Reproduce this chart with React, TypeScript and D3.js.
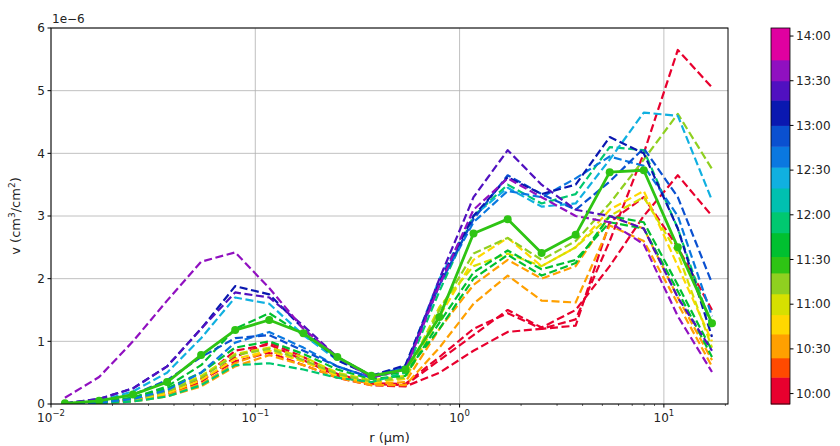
import React from "react";
import * as d3 from "d3";

// radius bins (µm)
const R = [0.0117, 0.0172, 0.0252, 0.037, 0.0543, 0.0797, 0.117, 0.172, 0.252, 0.37, 0.543, 0.797, 1.17, 1.72, 2.52, 3.7, 5.43, 7.97, 11.7, 17.2];

// times in minutes since midnight
const TIMES = [600, 605, 608, 635, 638, 647, 660, 670, 700, 705, 715, 745, 760, 770, 785, 800, 815, 690];
// values (x1e-6)
const S_1000 = [0.0, 0.03, 0.08, 0.18, 0.38, 0.68, 0.82, 0.62, 0.42, 0.3, 0.28, 0.5, 0.85, 1.15, 1.2, 1.35, 2.6, 4.0, 5.65, 5.05];
const S_1005 = [0.0, 0.02, 0.07, 0.17, 0.4, 0.85, 0.95, 0.7, 0.45, 0.32, 0.3, 0.7, 1.1, 1.5, 1.22, 1.5, 2.2, 3.0, 3.65, 3.0];
const S_1008 = [0.0, 0.02, 0.06, 0.15, 0.35, 0.75, 0.98, 0.75, 0.48, 0.33, 0.32, 0.75, 1.2, 1.45, 1.2, 1.25, 2.9, 3.3, 2.5, 1.5];
const S_1035 = [0.0, 0.01, 0.04, 0.12, 0.28, 0.6, 0.78, 0.62, 0.42, 0.3, 0.3, 0.9, 1.6, 2.05, 1.65, 1.62, 2.85, 2.6, 1.6, 0.6];
const S_1038 = [0.0, 0.01, 0.05, 0.14, 0.32, 0.65, 0.85, 0.68, 0.45, 0.32, 0.35, 1.2, 1.9, 2.3, 2.0, 2.2, 3.0, 2.8, 1.7, 0.7];
const S_1047 = [0.0, 0.02, 0.06, 0.17, 0.38, 0.72, 0.85, 0.68, 0.45, 0.34, 0.4, 1.4, 2.3, 2.65, 2.2, 2.5, 3.1, 3.4, 2.2, 1.0];
const S_1100 = [0.0, 0.03, 0.08, 0.22, 0.45, 0.8, 0.9, 0.75, 0.5, 0.38, 0.45, 1.55, 2.2, 2.4, 2.2, 2.5, 3.0, 3.3, 2.4, 0.9];
const S_1110 = [0.0, 0.02, 0.07, 0.2, 0.42, 0.78, 0.88, 0.7, 0.48, 0.36, 0.42, 1.5, 2.4, 2.65, 2.3, 2.6, 3.2, 3.9, 4.63, 3.75];
const S_1140 = [0.0, 0.03, 0.1, 0.25, 0.5, 0.9, 1.0, 0.8, 0.55, 0.4, 0.45, 1.3, 2.1, 2.45, 2.15, 2.3, 2.9, 2.8, 1.8, 0.75];
const S_1145 = [0.0, 0.03, 0.1, 0.28, 0.62, 1.2, 1.45, 1.1, 0.75, 0.45, 0.5, 1.2, 2.0, 2.38, 2.05, 2.25, 3.0, 2.9, 1.9, 0.85];
const S_1155 = [0.0, 0.01, 0.04, 0.12, 0.3, 0.62, 0.65, 0.55, 0.42, 0.35, 0.5, 1.8, 3.0, 3.5, 3.2, 3.35, 4.1, 4.05, 2.8, 1.2];
const S_1225 = [0.0, 0.05, 0.2, 0.5, 1.05, 1.7, 1.6, 1.1, 0.7, 0.45, 0.6, 2.0, 3.0, 3.45, 3.15, 3.2, 3.9, 4.65, 4.6, 3.25];
const S_1240 = [0.0, 0.02, 0.08, 0.22, 0.5, 0.98, 1.15, 0.9, 0.6, 0.42, 0.58, 1.9, 2.9, 3.4, 3.3, 3.6, 3.95, 3.8, 3.0, 1.4];
const S_1250 = [0.01, 0.05, 0.15, 0.38, 0.75, 1.05, 1.1, 0.85, 0.6, 0.42, 0.6, 1.9, 2.95, 3.65, 3.35, 3.1, 3.55, 4.08, 3.3, 1.93];
const S_1305 = [0.01, 0.08, 0.25, 0.6, 1.2, 1.88, 1.75, 1.2, 0.7, 0.45, 0.62, 1.95, 3.0, 3.62, 3.35, 3.5, 4.26, 4.0, 2.8, 1.07];
const S_1320 = [0.01, 0.08, 0.25, 0.6, 1.2, 1.78, 1.7, 1.25, 0.75, 0.45, 0.55, 2.0, 3.3, 4.05, 3.5, 3.1, 3.0, 2.8, 1.7, 0.85];
const S_1335 = [0.1, 0.43, 1.0, 1.65, 2.27, 2.42, 1.85, 1.2, 0.75, 0.42, 0.55, 1.9, 3.1, 3.6, 3.3, 3.0, 2.9, 2.55, 1.4, 0.51];
const S_1130 = [0.01, 0.05, 0.15, 0.35, 0.78, 1.18, 1.34, 1.13, 0.75, 0.45, 0.55, 1.39, 2.72, 2.95, 2.41, 2.7, 3.7, 3.73, 2.5, 1.29];

const SERIES = [S_1000, S_1005, S_1008, S_1035, S_1038, S_1047, S_1100, S_1110, S_1140, S_1145, S_1155, S_1225, S_1240, S_1250, S_1305, S_1320, S_1335, S_1130];

// colorbar bins (minutes) and colours
const CB_EDGES = [593, 611, 624, 640, 653, 667, 681, 692, 708, 722, 738, 752, 766, 780, 797, 810, 824, 845.4];
const CB_COLORS = ["#e8002e", "#ff4a00", "#ffa000", "#ffd800", "#d6e000", "#8fd020", "#2ec414", "#00c030", "#00c870", "#00c0b0", "#10b0e0", "#0a78e0", "#0a50d0", "#0a18b0", "#5010c0", "#9010c0", "#e000a0"];
const CB_TICKS = [600, 630, 660, 690, 720, 750, 780, 810, 840];
const CB_LABELS = ["10:00", "10:30", "11:00", "11:30", "12:00", "12:30", "13:00", "13:30", "14:00"];

const Y_TICKS = [0, 1, 2, 3, 4, 5, 6];
const X_MAJOR = [0.01, 0.1, 1, 10];
const X_EXP = ["−2", "−1", "0", "1"];

const FONT = "DejaVu Sans, sans-serif";

function colorFor(t: number) {
  for (let i = 0; i < CB_COLORS.length; i++) {
    if (t >= CB_EDGES[i] && t < CB_EDGES[i + 1]) return CB_COLORS[i];
  }
  return CB_COLORS[CB_COLORS.length - 1];
}

export default function App() {
  const W = 840, H = 446;
  const L = 51, Rt = 728, T = 28, B = 404;
  const x = d3.scaleLog().domain([0.01, 20.6]).range([L, Rt]);
  const y = d3.scaleLinear().domain([0, 6]).range([B, T]);
  const line = d3.line<number>().x((_, i) => x(R[i])).y((d) => y(d));

  const minor: number[] = [];
  for (const dec of [0.01, 0.1, 1, 10]) {
    for (let k = 2; k <= 9; k++) {
      const v = dec * k;
      if (v < 20.6) minor.push(v);
    }
  }

  const cbL = 771, cbR = 790;
  const cy = d3.scaleLinear().domain([CB_EDGES[0], CB_EDGES[CB_EDGES.length - 1]]).range([B, T]);

  const order = SERIES.map((s, i) => i);

  return (
    <svg width={W} height={H} style={{ position: "absolute", left: 0, top: 0, background: "#fff" }} fontFamily={FONT}>
      <rect x={0} y={0} width={W} height={H} fill="#fff" />
      <defs>
        <clipPath id="clip">
          <rect x={L} y={T} width={Rt - L} height={B - T} />
        </clipPath>
      </defs>
      {/* grid */}
      {Y_TICKS.map((t) => (
        <line key={"gy" + t} x1={L} x2={Rt} y1={y(t)} y2={y(t)} stroke="#b0b0b0" strokeWidth={0.8} />
      ))}
      {X_MAJOR.map((t) => (
        <line key={"gx" + t} x1={x(t)} x2={x(t)} y1={T} y2={B} stroke="#b0b0b0" strokeWidth={0.8} />
      ))}
      {/* series */}
      <g clipPath="url(#clip)">
        {order.map((i) => {
          const solid = i === SERIES.length - 1;
          const c = colorFor(TIMES[i]);
          return (
            <g key={"s" + i}>
              <path
                d={line(SERIES[i]) || ""}
                fill="none"
                stroke={c}
                strokeWidth={solid ? 2.8 : 2.2}
                strokeDasharray={solid ? undefined : "8,3.6"}
                strokeLinejoin="round"
              />
              {solid && SERIES[i].map((v, j) => <circle key={j} cx={x(R[j])} cy={y(v)} r={4} fill={c} />)}
            </g>
          );
        })}
      </g>
      {/* frame */}
      <rect x={L} y={T} width={Rt - L} height={B - T} fill="none" stroke="#000" strokeWidth={1} />
      {/* y ticks */}
      {Y_TICKS.map((t) => (
        <g key={"yt" + t}>
          <line x1={L - 3.5} x2={L} y1={y(t)} y2={y(t)} stroke="#000" />
          <text x={L - 6} y={y(t)} dy="0.35em" textAnchor="end" fontSize={12} fill="#222">
            {t}
          </text>
        </g>
      ))}
      <text x={L + 1} y={T - 5} fontSize={12} fill="#222">1e−6</text>
      {/* x ticks */}
      {X_MAJOR.map((t, i) => (
        <g key={"xt" + t}>
          <line x1={x(t)} x2={x(t)} y1={B} y2={B + 3.5} stroke="#000" />
          <text x={x(t)} y={B + 18} textAnchor="middle" fontSize={12} fill="#222">
            10
            <tspan fontSize={8.5} dy={-6}>{X_EXP[i]}</tspan>
          </text>
        </g>
      ))}
      {minor.map((t) => (
        <line key={"mx" + t} x1={x(t)} x2={x(t)} y1={B} y2={B + 2} stroke="#000" strokeWidth={0.6} />
      ))}
      <text x={(L + Rt) / 2} y={442} textAnchor="middle" fontSize={13} fill="#222">r (µm)</text>
      <text transform={`translate(20,${(T + B) / 2}) rotate(-90)`} textAnchor="middle" fontSize={13} fill="#222">
        v (cm
        <tspan fontSize={9} dy={-5}>3</tspan>
        <tspan dy={5}>/cm</tspan>
        <tspan fontSize={9} dy={-5}>2</tspan>
        <tspan dy={5}>)</tspan>
      </text>
      {/* colorbar */}
      {CB_COLORS.map((c, i) => (
        <rect key={"cb" + i} x={cbL} width={cbR - cbL} y={cy(CB_EDGES[i + 1])} height={cy(CB_EDGES[i]) - cy(CB_EDGES[i + 1]) + 0.5} fill={c} />
      ))}
      <rect x={cbL} y={T} width={cbR - cbL} height={B - T} fill="none" stroke="#000" strokeWidth={0.8} />
      {CB_TICKS.map((t, i) => (
        <g key={"ct" + t}>
          <line x1={cbR} x2={cbR + 3.5} y1={cy(t)} y2={cy(t)} stroke="#000" />
          <text x={cbR + 6} y={cy(t)} dy="0.35em" fontSize={12} fill="#222">{CB_LABELS[i]}</text>
        </g>
      ))}
    </svg>
  );
}
